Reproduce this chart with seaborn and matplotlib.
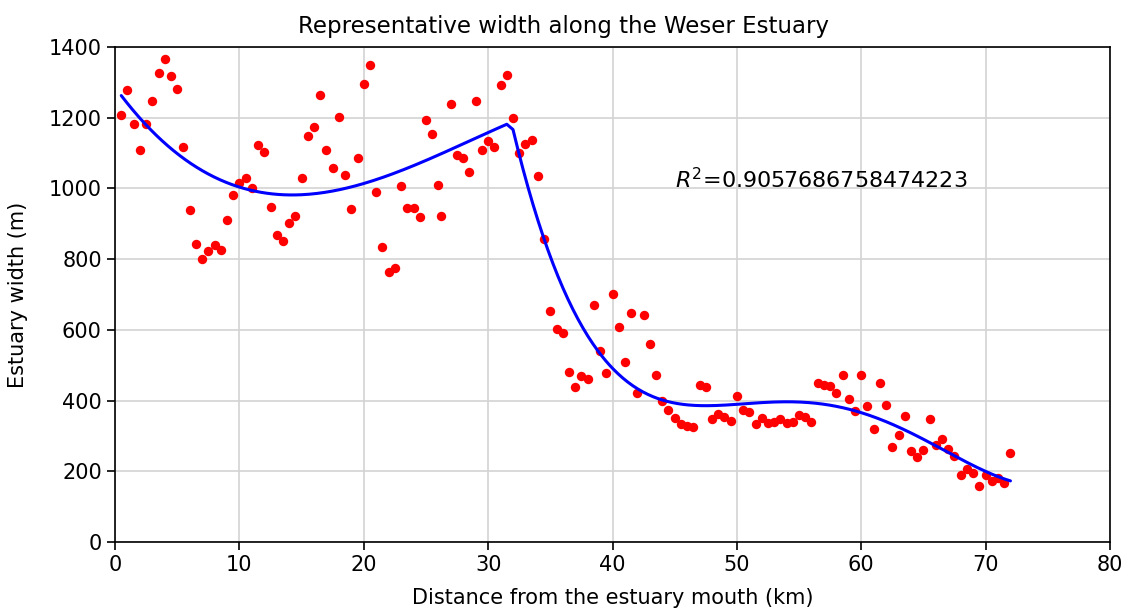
import numpy as np
import pandas as pd
import matplotlib
matplotlib.use("Agg")
import matplotlib.pyplot as plt
import seaborn as sns

# Distance from the estuary mouth (km) and measured width (m)
distance_km = [
    0.5, 1.0, 1.5, 2.0, 2.5, 3.0, 3.5, 4.0, 4.5, 5.0, 5.5, 6.0, 6.5, 7.0, 7.5, 8.0,
    8.5, 9.0, 9.5, 10.0, 10.5, 11.0, 11.5, 12.0, 12.5, 13.0, 13.5, 14.0, 14.5, 15.0,
    15.5, 16.0, 16.5, 17.0, 17.5, 18.0, 18.5, 19.0, 19.5, 20.0, 20.5, 21.0, 21.5,
    22.0, 22.5, 23.0, 23.5, 24.0, 24.5, 25.0, 25.5, 26.0, 26.2, 27.0, 27.5, 28.0,
    28.5, 29.0, 29.5, 30.0, 30.5, 31.0, 31.5, 32.0, 32.5, 33.0, 33.5, 34.0, 34.5,
    35.0, 35.5, 36.0, 36.5, 37.0, 37.5, 38.0, 38.5, 39.0, 39.5, 40.0, 40.5, 41.0,
    41.5, 42.0, 42.5, 43.0, 43.5, 44.0, 44.5, 45.0, 45.5, 46.0, 46.5, 47.0, 47.5,
    48.0, 48.5, 49.0, 49.5, 50.0, 50.5, 51.0, 51.5, 52.0, 52.5, 53.0, 53.5, 54.0,
    54.5, 55.0, 55.5, 56.0, 56.5, 57.0, 57.5, 58.0, 58.5, 59.0, 59.5, 60.0, 60.5,
    61.0, 61.5, 62.0, 62.5, 63.0, 63.5, 64.0, 64.5, 65.0, 65.5, 66.0, 66.5, 67.0,
    67.5, 68.0, 68.5, 69.0, 69.5, 70.0, 70.5, 71.0, 71.5, 72.0,
]
width_m = [
    1207, 1278, 1181, 1109, 1182, 1246, 1326, 1366, 1317, 1282, 1118, 938, 842, 800,
    824, 841, 826, 911, 982, 1016, 1029, 1001, 1122, 1103, 948, 867, 852, 903, 922,
    1029, 1148, 1173, 1264, 1110, 1057, 1203, 1039, 941, 1087, 1294, 1349, 991, 835,
    764, 776, 1008, 944, 944, 919, 1193, 1153, 1010, 923, 1238, 1095, 1087, 1045,
    1248, 1110, 1133, 1117, 1293, 1322, 1199, 1099, 1126, 1136, 1036, 858, 653, 603,
    591, 481, 439, 469, 462, 671, 541, 478, 701, 609, 508, 648, 422, 641, 559, 471,
    399, 372, 350, 333, 329, 324, 443, 439, 347, 363, 354, 341, 414, 374, 367, 334,
    350, 337, 340, 349, 336, 340, 358, 353, 340, 450, 444, 441, 420, 472, 405, 370,
    473, 385, 320, 449, 388, 270, 303, 356, 256, 240, 261, 349, 274, 291, 263, 244,
    189, 206, 195, 159, 190, 173, 182, 166, 252,
]

# Break point between the upper and lower reach of the trend line
break_km = 31.75
r_squared_label = "$R^2$=0.9057686758474223"

df = pd.DataFrame({"distance": distance_km, "width": width_m})

# Piecewise polynomial trend fitted separately on both reaches
upper = df[df["distance"] < break_km]
lower = df[df["distance"] >= break_km]
p_up = np.polyfit(upper["distance"], upper["width"], 3)
p_lo = np.polyfit(lower["distance"], lower["width"], 4)
x_up = np.linspace(upper["distance"].min(), upper["distance"].max(), 200)
x_lo = np.linspace(lower["distance"].min(), lower["distance"].max(), 300)
trend = pd.DataFrame({
    "distance": np.concatenate([x_up, x_lo]),
    "width": np.concatenate([np.polyval(p_up, x_up), np.polyval(p_lo, x_lo)]),
})

sns.set_style("ticks")
plt.rcParams["font.family"] = ["DejaVu Sans"]
plt.rcParams["text.color"] = "black"
plt.rcParams["axes.labelcolor"] = "black"

fig = plt.figure(figsize=(11.28, 6.10), dpi=100)
ax = fig.add_axes([0.102, 0.1115, 0.882, 0.8115])

sns.scatterplot(data=df, x="distance", y="width", ax=ax, color="red",
                s=46, linewidth=0, zorder=3)
sns.lineplot(data=trend, x="distance", y="width", ax=ax, color="blue",
             linewidth=2.2, sort=False, estimator=None, zorder=4)

ax.set_xlim(0, 80)
ax.set_ylim(0, 1400)
ax.set_xticks(np.arange(0, 81, 10))
ax.set_yticks(np.arange(0, 1401, 200))
ax.grid(True, color="#d3d3d3", linewidth=1.2)
ax.set_axisbelow(True)
for side in ["top", "right", "bottom", "left"]:
    ax.spines[side].set_visible(True)
    ax.spines[side].set_color("black")
    ax.spines[side].set_linewidth(1.2)
ax.tick_params(axis="both", labelsize=15, colors="black", length=6, width=1.2)

fig.suptitle("Representative width along the Weser Estuary", fontsize=16.5,
             x=0.5, y=1 - 33 / 610, va="baseline")
ax.set_xlabel("Distance from the estuary mouth (km)", fontsize=15)
ax.set_ylabel("Estuary width (m)", fontsize=15)
ax.xaxis.set_label_coords(0.5, -0.093)
ax.yaxis.set_label_coords(-0.088, 0.5)
ax.text(45, 1000, r_squared_label, fontsize=16)

fig.savefig("out.png", dpi=100)
